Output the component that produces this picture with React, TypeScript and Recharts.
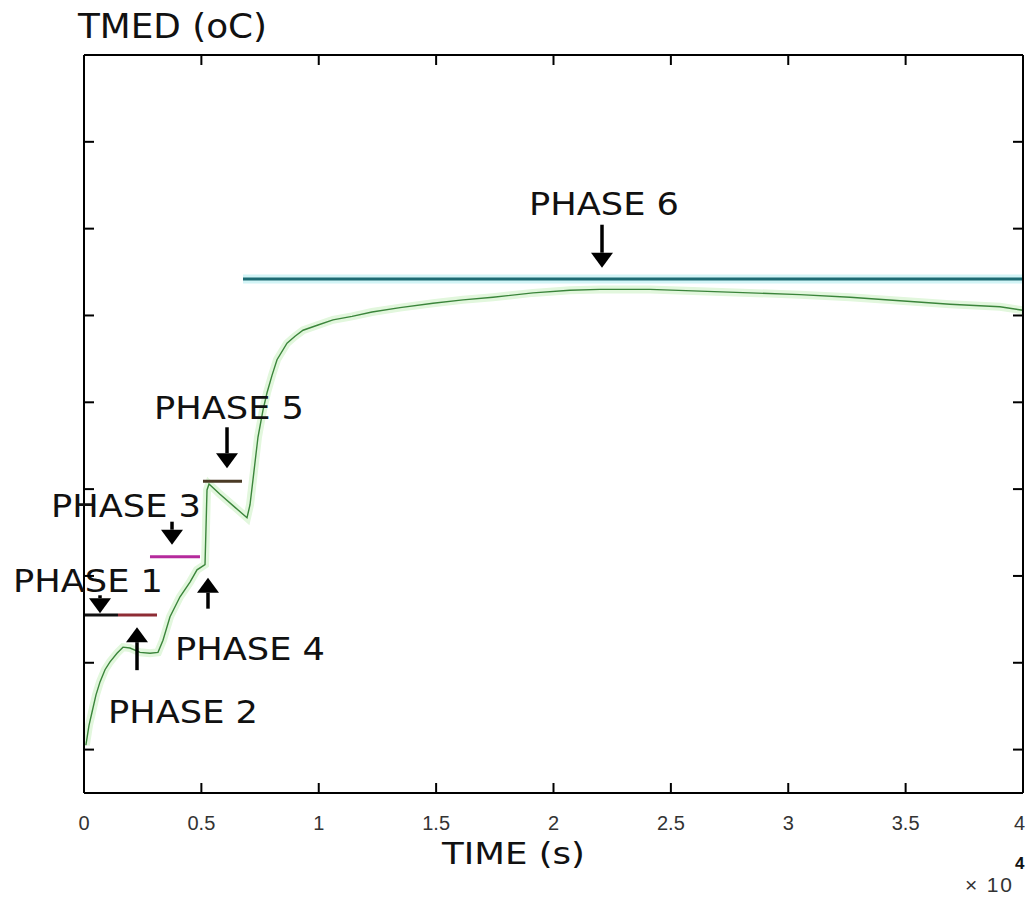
import { ComposedChart, Line, XAxis, YAxis, ReferenceDot } from 'recharts';

// measured curve (time in s, TMED in oC)
const timeS = [
  80, 213, 341, 511, 682, 895, 1108, 1406, 1661, 1960, 2386, 2812, 3152, 3365, 3664, 4090, 4516, 4814, 5155,
  5240, 5325, 5794, 6433, 6944, 7072, 7199, 7412, 7625, 7796, 8009, 8222, 8648, 8989, 9330, 9969, 10607,
  11417, 12269, 13462, 14867, 16145, 17423, 19127, 20703, 21981, 24111, 26241, 28371, 30501, 32631, 34760,
  36890, 39020, 40000,
];
const tmed = [
  20.5, 22.8, 24.3, 26.3, 27.8, 29.2, 30.1, 31.1, 31.8, 31.7, 31.2, 31.1, 31.2, 32.6, 35.3, 37.6, 39.3, 40.7, 41.3,
  49.9, 50.6, 49.4, 47.9, 46.7, 48.2, 51.1, 56.0, 59.1, 61.1, 63.1, 64.9, 66.8, 67.6, 68.3, 68.9, 69.5,
  69.9, 70.4, 70.9, 71.4, 71.8, 72.1, 72.6, 72.9, 73.0, 73.0, 72.8, 72.6, 72.4, 72.1, 71.7,
  71.3, 71.0, 70.6,
];

// phase set-point segments
const segStart = [0, 1448, 2811, 5069, 6773];
const segEnd = [1448, 3110, 4941, 6731, 40000];
const segLevel = [35.5, 35.5, 42.2, 50.9, 74.2];
const segColors = ['#111111', '#8e2c35', '#b52a9c', '#4a3a25', '#1d6b73'];

// phase annotations (arrow tips)
const phaseLabels = ['PHASE 1', 'PHASE 2', 'PHASE 3', 'PHASE 4', 'PHASE 5', 'PHASE 6'];
const arrowTime = [682, 2258, 3749, 5282, 6092, 22066];
const arrowTemp = [35.7, 34.1, 43.6, 39.8, 52.4, 75.5];
const arrowUp = [false, true, false, true, false, false];

const xTicks = [0, 5000, 10000, 15000, 20000, 25000, 30000, 35000, 40000];
const yTicks = [20, 30, 40, 50, 60, 70, 80, 90, 100];
const Y_MIN = 15;
const Y_MAX = 100;

// label placement relative to arrow tip (px)
const labelLayout = [
  { dx: -12, dy: -21, len: 18 },
  { dx: 46, dy: 96, len: 43 },
  { dx: -46, dy: -28, len: 23 },
  { dx: 42, dy: 82, len: 31 },
  { dx: 2, dy: -49, len: 41 },
  { dx: 2, dy: -53, len: 43 },
];

const curve = timeS.map((t, i) => ({ t, v: tmed[i] }));
const segments = segStart.map((s, i) => [
  { t: s, v: segLevel[i] },
  { t: segEnd[i], v: segLevel[i] },
]);

const W = 1025;
const H = 897;
const MARGIN = { top: 54, right: 1, bottom: 103, left: 83 };

const FONT = '"DejaVu Sans", sans-serif';
const TICK_FONT = '"Liberation Sans", Arial, sans-serif';

const BottomTick = ({ x, y, payload }: any) => {
  const last = payload.value === 40000;
  return (
    <text
      x={last ? x + 2 : x}
      y={y + 37}
      textAnchor={last ? 'end' : 'middle'}
      fontFamily={TICK_FONT}
      fontSize={20}
      fill="#333"
    >
      {String(payload.value / 10000)}
    </text>
  );
};
const LeftTick = ({ x, y }: any) => <line x1={x} y1={y} x2={x + 10} y2={y} stroke="#000" strokeWidth={2} />;
const RightTick = ({ x, y }: any) => <line x1={x} y1={y} x2={x - 10} y2={y} stroke="#000" strokeWidth={2} />;

// inward x tick mark, drawn at a (time, edge) point; dir -1 = upward, 1 = downward
const XTickMark = ({ cx, cy, dir }: any) => (
  <path d={`M${cx},${cy} L${cx},${cy + dir * 10}`} stroke="#000" strokeWidth={2} fill="none" />
);

function PhaseMarker({ cx, cy, idx }: any) {
  const { dx, dy, len } = labelLayout[idx];
  const up = arrowUp[idx];
  const s = up ? 1 : -1; // direction from tip to tail
  const head = 15;
  return (
    <g>
      <line x1={cx} y1={cy + s * head} x2={cx} y2={cy + s * len} stroke="#000" strokeWidth={3.5} />
      <polygon
        points={`${cx - 11},${cy + s * head} ${cx + 11},${cy + s * head} ${cx},${cy}`}
        fill="#000"
      />
      <text
        x={cx + dx}
        y={cy + dy}
        textAnchor="middle"
        fontFamily={FONT}
        fontSize={32}
        fill="#111"
        textLength={150}
        lengthAdjust="spacingAndGlyphs"
      >
        {phaseLabels[idx]}
      </text>
    </g>
  );
}

export default function App() {
  return (
    <div style={{ position: 'absolute', left: 0, top: 0, width: W, height: H, background: '#fff' }}>
      <ComposedChart width={W} height={H} margin={MARGIN}>
        <XAxis
          xAxisId="b"
          dataKey="t"
          type="number"
          domain={[0, 40000]}
          ticks={xTicks}
          interval={0}
          height={1}
          tickSize={0}
          tickMargin={0}
          tickLine={false}
          tick={<BottomTick />}
          axisLine={{ stroke: '#000', strokeWidth: 2 }}
          allowDataOverflow
          label={({ viewBox }: any) => (
            <g>
              <text
                x={viewBox.x + viewBox.width / 2 - 40}
                y={viewBox.y + 71}
                textAnchor="middle"
                fontFamily={FONT}
                fontSize={30}
                fill="#111"
                textLength={143}
                lengthAdjust="spacingAndGlyphs"
              >
                TIME (s)
              </text>
              <text x={1012} y={892} textAnchor="end" fontFamily={TICK_FONT} fontSize={21} fill="#333" textLength={47} lengthAdjust="spacing">
                × 10
              </text>
              <text x={1015} y={869} fontFamily={TICK_FONT} fontSize={17} fontWeight="bold" fill="#111">
                4
              </text>
            </g>
          )}
        />
        <XAxis
          xAxisId="top"
          orientation="top"
          dataKey="t"
          type="number"
          domain={[0, 40000]}
          ticks={xTicks}
          height={1}
          tickLine={false}
          tick={false}
          axisLine={{ stroke: '#000', strokeWidth: 2 }}
          allowDataOverflow
        />
        <YAxis
          yAxisId="l"
          type="number"
          domain={[Y_MIN, Y_MAX]}
          ticks={yTicks}
          interval={0}
          width={1}
          tickSize={0}
          tickMargin={0}
          tickLine={false}
          tick={<LeftTick />}
          axisLine={{ stroke: '#000', strokeWidth: 2 }}
          allowDataOverflow
          label={({ viewBox }: any) => (
            <text
              x={viewBox.x - 5}
              y={viewBox.y - 17}
              fontFamily={FONT}
              fontSize={33}
              fill="#111"
              textLength={189}
              lengthAdjust="spacingAndGlyphs"
            >
              TMED (oC)
            </text>
          )}
        />
        <YAxis
          yAxisId="r"
          orientation="right"
          type="number"
          domain={[Y_MIN, Y_MAX]}
          ticks={yTicks}
          interval={0}
          width={1}
          tickSize={0}
          tickMargin={0}
          tickLine={false}
          tick={<RightTick />}
          axisLine={{ stroke: '#000', strokeWidth: 2 }}
          allowDataOverflow
        />

        {/* soft halos like the scanned original (drawn on the mirror axes, same domains) */}
        <Line xAxisId="top" yAxisId="r" data={curve} dataKey="v" type="linear" dot={false} stroke="#e2f7dd" strokeWidth={8} isAnimationActive={false} />
        <Line xAxisId="top" yAxisId="r" data={segments[4]} dataKey="v" type="linear" dot={false} stroke="#d2f4f6" strokeWidth={9} isAnimationActive={false} />

        {segments.map((seg, i) => (
          <Line
            key={'seg' + i}
            xAxisId="b"
            yAxisId="l"
            data={seg}
            dataKey="v"
            type="linear"
            dot={false}
            stroke={segColors[i]}
            strokeWidth={3}
            isAnimationActive={false}
          />
        ))}
        <Line xAxisId="b" yAxisId="l" data={curve} dataKey="v" type="linear" dot={false} stroke="#3b853b" strokeWidth={1.4} isAnimationActive={false} />

        {/* inward x tick marks on the bottom and top edges of the box */}
        {xTicks.map((t) => (
          <ReferenceDot
            key={'bt' + t}
            xAxisId="b"
            yAxisId="l"
            x={t}
            y={Y_MIN}
            r={0}
            ifOverflow="visible"
            shape={(p: any) => <XTickMark cx={p.cx} cy={p.cy} dir={-1} />}
          />
        ))}
        {xTicks.map((t) => (
          <ReferenceDot
            key={'tt' + t}
            xAxisId="b"
            yAxisId="l"
            x={t}
            y={Y_MAX}
            r={0}
            ifOverflow="visible"
            shape={(p: any) => <XTickMark cx={p.cx} cy={p.cy} dir={1} />}
          />
        ))}

        {phaseLabels.map((_, i) => (
          <ReferenceDot
            key={'ph' + i}
            xAxisId="b"
            yAxisId="l"
            x={arrowTime[i]}
            y={arrowTemp[i]}
            r={0}
            ifOverflow="visible"
            shape={(p: any) => <PhaseMarker cx={p.cx} cy={p.cy} idx={i} />}
          />
        ))}
      </ComposedChart>
    </div>
  );
}
